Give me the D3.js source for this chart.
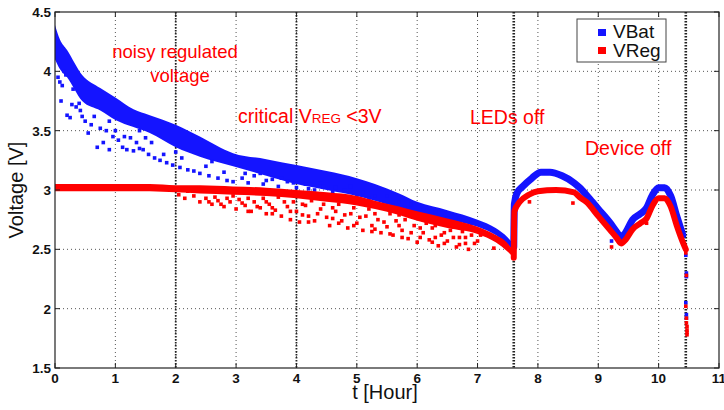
<!DOCTYPE html>
<html><head><meta charset="utf-8">
<script src="https://cdn.jsdelivr.net/npm/d3@7"></script>
<style>body{margin:0;background:#fff}text{font-family:"Liberation Sans",Arial,sans-serif}</style>
</head><body><svg id="c" width="724" height="410"></svg>
<script>
// ---------- data ----------
const xTicks = [0,1,2,3,4,5,6,7,8,9,10,11];
const yTicks = [1.5,2,2.5,3,3.5,4,4.5];
const markerTimes = [2,4,7.6,10.45];

// dense band (first discharge phase): time, VBat upper/lower, VReg upper/lower
const bandT  = [0,0.08,0.2,0.45,0.75,1,1.3,1.57,2,2.4,2.95,3.5,4,4.5,5,5.3,5.7,6,6.5,7,7.3,7.5,7.6];
const vbatHi = [4.39,4.27,4.18,3.97,3.86,3.78,3.68,3.63,3.55,3.45,3.31,3.26,3.21,3.16,3.1,3.05,2.97,2.9,2.83,2.75,2.68,2.6,2.54];
const vbatLo = [4.1,4.02,3.95,3.75,3.67,3.59,3.53,3.48,3.36,3.28,3.2,3.12,3.05,3.0,2.95,2.91,2.85,2.8,2.75,2.69,2.62,2.54,2.49];
const vregHi = [3.05,3.05,3.05,3.05,3.05,3.05,3.05,3.05,3.04,3.04,3.03,3.02,3.0,2.98,2.95,2.91,2.86,2.82,2.76,2.69,2.62,2.55,2.48];
const vregLo = [2.99,2.99,2.99,2.99,2.99,2.99,2.99,2.99,2.98,2.97,2.96,2.95,2.93,2.9,2.87,2.84,2.79,2.74,2.68,2.63,2.56,2.48,2.43];

// scattered VBat points (lower strands)
const vbatScatter = [[0.05,3.95],[0.08,3.91],[0.12,3.88],[0.15,4.0],[0.18,3.97],[0.2,3.63],[0.25,3.61],[0.3,3.85],[0.35,3.7],[0.4,3.73],[0.42,3.67],
 [0.5,3.58],[0.55,3.48],[0.6,3.55],[0.65,3.62],[0.7,3.36],[0.75,3.52],[0.8,3.4],[0.9,3.34],[0.96,3.45],[1.0,3.5],[1.05,3.42],[1.12,3.36],
 [1.19,3.34],[1.25,3.44],[1.3,3.33],[1.4,3.35],[1.46,3.34],[1.55,3.3],[1.6,3.4],[1.65,3.27],[1.74,3.25],[1.85,3.23],[1.95,3.21],[2.07,3.19],
 [2.2,3.17],[2.3,3.16],[2.4,3.14],[2.55,3.12],[2.7,3.1],[2.85,3.08],[2.95,3.07],
 [0.1,3.75],[0.28,3.72],[0.45,3.62],[0.85,3.5],[0.9,3.58],[1.15,3.45],[1.35,3.4],[1.4,3.5],[1.5,3.44],[1.8,3.3],[2.0,3.32],[2.1,3.27],
 [2.5,3.2],[2.6,3.24],[2.8,3.15],
 [3.1,3.1],[3.15,3.14],[3.2,3.06],[3.3,3.12],[3.4,3.14],[3.45,3.05],[3.5,3.08],[3.6,3.09],[3.7,3.03],[3.75,3.1],[3.85,3.07],[3.95,3.06],
 [4.0,3.02],[4.15,3.05],[4.2,3.01],[4.3,3.0],[4.4,3.06],[4.45,3.03],[4.6,2.98],[4.65,3.02],[4.8,3.0],[4.9,3.03],[5.0,2.95],[5.1,2.98],
 [5.2,2.93],[5.3,2.95],[5.45,2.9],[5.5,2.95],[5.6,2.87],[5.7,2.9],[5.8,2.85],[5.9,2.88],[6.0,2.8],[6.1,2.84],[6.2,2.78],[6.3,2.82],
 [6.4,2.75],[6.5,2.76],[6.6,2.72],[6.7,2.76],[6.8,2.7],[6.9,2.72],[9.22,2.57]];

// scattered VReg points (noisy regulated voltage)
const vregScatter = [[2.05,2.96],[2.15,2.93],[2.2,2.99],[2.3,2.95],[2.4,2.9],[2.5,2.93],[2.55,2.9],[2.6,2.88],[2.65,2.94],[2.7,2.91],[2.75,2.88],
 [2.8,2.86],[2.85,2.93],[2.9,2.9],[2.95,2.95],[3.0,2.84],[3.05,2.92],[3.1,2.89],[3.15,2.87],[3.2,2.93],[3.2,2.82],[3.25,2.82],[3.3,2.9],
 [3.35,2.86],[3.4,2.85],[3.45,2.93],[3.5,2.8],[3.5,2.9],[3.55,2.88],[3.6,2.85],[3.6,2.8],[3.65,2.83],[3.7,2.94],[3.75,2.78],[3.8,2.9],
 [3.85,2.86],[3.9,2.75],[3.9,2.82],[3.95,2.9],[4.0,2.82],[4.05,2.73],[4.1,2.79],[4.1,2.88],[4.15,2.87],[4.2,2.78],[4.2,2.73],[4.25,2.91],
 [4.3,2.74],[4.35,2.8],[4.4,2.84],[4.45,2.88],[4.5,2.77],[4.55,2.7],[4.6,2.76],[4.6,2.85],[4.65,2.82],[4.7,2.88],[4.7,2.72],[4.75,2.74],
 [4.8,2.79],[4.85,2.68],[4.9,2.8],[4.95,2.85],[4.95,2.7],[5.0,2.72],[5.05,2.77],[5.1,2.66],[5.15,2.78],[5.2,2.84],[5.25,2.7],[5.25,2.65],
 [5.3,2.8],[5.3,2.67],[5.35,2.75],[5.4,2.64],[5.45,2.73],[5.5,2.69],[5.55,2.8],[5.55,2.63],[5.6,2.62],[5.65,2.74],[5.7,2.79],[5.7,2.7],
 [5.75,2.66],[5.75,2.6],[5.8,2.75],[5.85,2.59],[5.9,2.64],[5.95,2.7],[6.0,2.56],[6.05,2.68],[6.05,2.6],[6.1,2.64],[6.1,2.75],[6.15,2.72],
 [6.2,2.58],[6.25,2.68],[6.25,2.56],[6.3,2.6],[6.3,2.7],[6.35,2.53],[6.4,2.62],[6.45,2.64],[6.45,2.55],[6.5,2.57],[6.55,2.66],[6.6,2.69],
 [6.6,2.6],[6.65,2.52],[6.7,2.6],[6.7,2.54],[6.75,2.65],[6.8,2.55],[6.8,2.6],[6.85,2.5],[6.9,2.62],[6.95,2.55],[7.0,2.57],[7.05,2.62],
 [7.27,2.51],[7.86,2.9],[8.58,2.89],[9.22,2.52],[9.8,2.72]];

// second phase (LEDs off)
const vbat2T = [7.6,7.61,7.65,7.75,7.9,8.05,8.2,8.4,8.6,8.69,8.8,8.9,9.0,9.2,9.3,9.38,9.45,9.57,9.7,9.8,9.9,10.0,10.1,10.2,10.3,10.4];
const vbat2V = [2.52,2.88,2.97,3.03,3.1,3.15,3.15,3.12,3.06,3.02,2.96,2.9,2.84,2.72,2.65,2.6,2.64,2.75,2.8,2.85,2.96,3.02,3.02,2.95,2.78,2.62];
const vreg2T = [7.6,7.61,7.7,7.85,8.0,8.3,8.6,8.69,8.8,9.0,9.2,9.3,9.38,9.45,9.57,9.7,9.8,9.9,10.0,10.1,10.2,10.3,10.4,10.45];
const vreg2V = [2.43,2.82,2.9,2.96,2.99,3.0,2.98,2.94,2.9,2.78,2.66,2.6,2.55,2.58,2.67,2.72,2.76,2.87,2.93,2.93,2.86,2.7,2.56,2.5];

// device off drop
const vbatDrop = [[10.45,2.5],[10.45,2.45],[10.46,2.3],[10.46,2.27],[10.45,2.05],[10.46,1.95],[10.46,1.92]];
const vregDrop = [[10.45,2.47],[10.46,2.28],[10.45,2.02],[10.46,1.92],[10.46,1.88],[10.47,1.85],[10.47,1.82],[10.47,1.8],[10.47,1.78]];

const series = ["VBat","VReg"];
const colors = ["#1414ff","#ff0000"];

// ---------- drawing ----------
const svg = d3.select("#c");
const L=55,R=719,T=12,B=368;
const x = d3.scaleLinear().domain([0,11]).range([L,R]);
const y = d3.scaleLinear().domain([1.5,4.5]).range([B,T]);

// grid
const g = svg.append("g");
g.selectAll("line.vg").data(xTicks.slice(1,-1)).join("line")
 .attr("x1",d=>x(d)).attr("x2",d=>x(d)).attr("y1",T).attr("y2",B)
 .attr("stroke","#555").attr("stroke-width",1).attr("stroke-dasharray","1,3");
g.selectAll("line.hg").data(yTicks.slice(1,-1)).join("line")
 .attr("x1",L).attr("x2",R).attr("y1",d=>y(d)).attr("y2",d=>y(d))
 .attr("stroke","#555").attr("stroke-width",1).attr("stroke-dasharray","1,3");

// event marker lines
svg.selectAll("line.mk").data(markerTimes).join("line")
 .attr("x1",d=>x(d)).attr("x2",d=>x(d)).attr("y1",T).attr("y2",B)
 .attr("stroke","#222").attr("stroke-width",d=>d>7?2.6:1.8).attr("stroke-dasharray","1.5,1.5");

const band = (hi,lo)=>d3.area().x((d,i)=>x(bandT[i])).y0((d,i)=>y(lo[i])).y1((d,i)=>y(hi[i])).curve(d3.curveMonotoneX);
const dots = (data,col)=>svg.append("g").selectAll("rect").data(data).join("rect")
 .attr("x",d=>x(d[0])-1.8).attr("y",d=>y(d[1])-1.8).attr("width",3.6).attr("height",3.6).attr("fill",col);
const line = d3.line().curve(d3.curveMonotoneX);

// VBat
svg.append("path").attr("d",band(vbatHi,vbatLo)(bandT)).attr("fill",colors[0]);
dots(vbatScatter,colors[0]);
svg.append("path").attr("d",line(vbat2T.map((t,i)=>[x(t),y(vbat2V[i])])))
 .attr("fill","none").attr("stroke",colors[0]).attr("stroke-width",7).attr("stroke-linejoin","round").attr("stroke-linecap","round");
dots(vbatDrop,colors[0]);

// VReg
svg.append("path").attr("d",band(vregHi,vregLo)(bandT)).attr("fill",colors[1]);
dots(vregScatter,colors[1]);
svg.append("path").attr("d",line(vreg2T.map((t,i)=>[x(t),y(vreg2V[i])])))
 .attr("fill","none").attr("stroke",colors[1]).attr("stroke-width",6).attr("stroke-linejoin","round").attr("stroke-linecap","round");
dots(vregDrop,colors[1]);

// frame + ticks
svg.append("rect").attr("x",L).attr("y",T).attr("width",R-L).attr("height",B-T)
 .attr("fill","none").attr("stroke","#222").attr("stroke-width",1.2);
const tk=5;
svg.selectAll("line.bt").data(xTicks).join("line").attr("class","bt")
 .attr("x1",d=>x(d)).attr("x2",d=>x(d)).attr("y1",B).attr("y2",B-tk).attr("stroke","#222");
svg.selectAll("line.tt").data(xTicks).join("line").attr("class","tt")
 .attr("x1",d=>x(d)).attr("x2",d=>x(d)).attr("y1",T).attr("y2",T+tk).attr("stroke","#222");
svg.selectAll("line.lt").data(yTicks).join("line").attr("class","lt")
 .attr("x1",L).attr("x2",L+tk).attr("y1",d=>y(d)).attr("y2",d=>y(d)).attr("stroke","#222");
svg.selectAll("line.rt").data(yTicks).join("line").attr("class","rt")
 .attr("x1",R).attr("x2",R-tk).attr("y1",d=>y(d)).attr("y2",d=>y(d)).attr("stroke","#222");

// tick labels
svg.append("g").selectAll("text").data(xTicks).join("text")
 .attr("x",d=>x(d)).attr("y",383).attr("text-anchor","middle")
 .attr("font-size",13.5).attr("font-weight","bold").attr("fill","#111").text(d=>d);
svg.append("g").selectAll("text").data(yTicks).join("text")
 .attr("x",51).attr("y",d=>y(d)+5).attr("text-anchor","end")
 .attr("font-size",13.5).attr("font-weight","bold").attr("fill","#111").text(d=>d);

// axis titles
svg.append("text").attr("x",385).attr("y",399).attr("text-anchor","middle").attr("font-size",20).attr("fill","#111").text("t [Hour]");
svg.append("text").attr("transform","translate(23,190) rotate(-90)").attr("text-anchor","middle").attr("font-size",20).attr("fill","#111").text("Voltage [V]");

// annotations
const ann = svg.append("g").attr("fill","#ff0000");
ann.append("text").attr("x",175).attr("y",58).attr("text-anchor","middle").attr("font-size",18.5).text("noisy regulated");
ann.append("text").attr("x",180).attr("y",82).attr("text-anchor","middle").attr("font-size",18.5).text("voltage");
const cr = ann.append("text").attr("x",238).attr("y",123).attr("font-size",19.5);
cr.append("tspan").text("critical V");
cr.append("tspan").attr("font-size",13.5).text("REG");
cr.append("tspan").text(" <3V");
ann.append("text").attr("x",470).attr("y",124).attr("font-size",19.5).text("LEDs off");
ann.append("text").attr("x",585).attr("y",155).attr("font-size",19.5).text("Device off");

// legend
const lg = svg.append("g");
lg.append("rect").attr("x",577).attr("y",19).attr("width",89).attr("height",43).attr("fill","#fff").attr("stroke","#444").attr("stroke-width",1);
series.forEach((s,i)=>{
  lg.append("rect").attr("x",598).attr("y",29+i*18).attr("width",8).attr("height",7).attr("fill",colors[i]);
  lg.append("text").attr("x",613).attr("y",38+i*19).attr("font-size",19).attr("fill","#111").text(s);
});
</script></body></html>
